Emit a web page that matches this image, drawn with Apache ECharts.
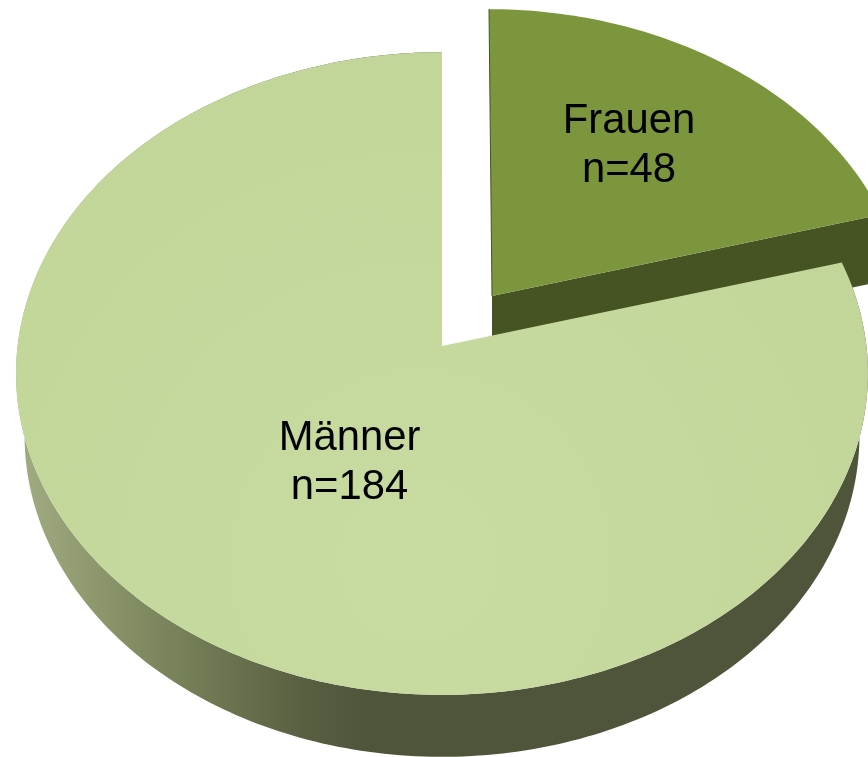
<!DOCTYPE html>
<html>
<head>
<meta charset="utf-8">
<title>Männer / Frauen</title>
<style>
html, body { margin: 0; padding: 0; background: #fff; overflow: hidden; }
#main { width: 868px; height: 757px; }
</style>
<script src="https://cdn.jsdelivr.net/npm/echarts@6/dist/echarts.min.js"></script>
</head>
<body>
<div id="main"></div>
<script>
const categories = ['Frauen', 'Männer']
const values = [48, 184]

const total = values.reduce((a, b) => a + b, 0)

// perspective of the tilted disc: the far side is squeezed
const radiusX = 424.4
const radiusY = 319
const tilt = 0.0855

const sideFill = new echarts.graphic.LinearGradient(16, 0, 442, 0, [
    { offset: 0, color: '#a3ad84' },
    { offset: 0.2, color: '#8b966b' },
    { offset: 0.45, color: '#6f7953' },
    { offset: 0.7, color: '#565d40' },
    { offset: 0.82, color: '#4f553b' },
    { offset: 1, color: '#4f553b' }
], true)

// very soft shine on the big slice
const topFill = new echarts.graphic.RadialGradient(420, 560, 520, [
    { offset: 0, color: '#c8dba0' },
    { offset: 1, color: '#c3d69a' }
], true)

// per slice drawing settings, same order as categories
const sliceStyles = [
    { cx: 492, cy: 296, scale: 0.976, lean: -3, depth: 67, top: '#7b963c', side: '#465322', label: [629, 145.5] },
    { cx: 442, cy: 346, scale: 1, lean: 0, depth: 62, top: topFill, side: sideFill, label: [349.5, 463] }
]

// angle in degrees clockwise from 12 o'clock -> point on the disc
const project = (s, deg, offsetY = 0, shrink = 1) => {
    const a = deg * Math.PI / 180
    const d = 1 + tilt * Math.cos(a)
    const dy = radiusY * Math.cos(a) / d * s.scale
    return [
        s.cx + radiusX * Math.sin(a) / d * s.scale * shrink + s.lean * dy / 287,
        s.cy - dy + offsetY
    ]
}

const arc = (s, from, to, offsetY, shrink) => {
    const pts = []
    const steps = Math.ceil(Math.abs(to - from))
    for (let i = 0; i <= steps; i++) {
        pts.push(project(s, from + (to - from) * i / steps, offsetY, shrink))
    }
    return pts
}

const renderItem = (params, api) => {
    const i = params.dataIndex
    const s = sliceStyles[i]
    let start = 0
    for (let j = 0; j < i; j++) start += values[j]
    const from = start / total * 360
    const to = (start + api.value(0)) / total * 360
    const apex = [s.cx, s.cy]

    const children = []
    if (i === 0) {
        // only the cut face of this slice can be seen
        const a = project(s, to)
        const wall = [apex, a, [a[0], a[1] + s.depth], [apex[0], apex[1] + s.depth]]
        children.push({ type: 'polygon', shape: { points: wall }, style: { fill: s.side } })
    } else {
        const wall = arc(s, from, to, 0, 1).concat(arc(s, to, from, s.depth, 0.98))
        children.push({ type: 'polygon', shape: { points: wall }, style: { fill: s.side } })
    }
    children.push({
        type: 'polygon',
        shape: { points: [apex].concat(arc(s, from, to, 0, 1)) },
        style: { fill: s.top }
    })
    if (i === 0) {
        // thin dark line down the left side of the slice
        children.push({
            type: 'polyline',
            shape: { points: [project(s, 0), apex] },
            style: { stroke: '#465322', lineWidth: 1, fill: null }
        })
    }
    children.push({
        type: 'text',
        x: s.label[0],
        y: s.label[1],
        style: {
            text: categories[i] + '\nn=' + api.value(0),
            font: '41.8px "Liberation Sans", Arial, sans-serif',
            lineHeight: 49,
            fill: '#000',
            align: 'center',
            verticalAlign: 'middle'
        }
    })
    return { type: 'group', children }
}

const myChart = echarts.init(document.getElementById('main'), null, { renderer: 'canvas' })

myChart.setOption({
    animation: false,
    backgroundColor: '#fff',
    series: [
        {
            type: 'custom',
            coordinateSystem: 'none',
            renderItem,
            silent: true,
            data: values.map((v, i) => ({ name: categories[i], value: [v] }))
        }
    ]
})
</script>
</body>
</html>
